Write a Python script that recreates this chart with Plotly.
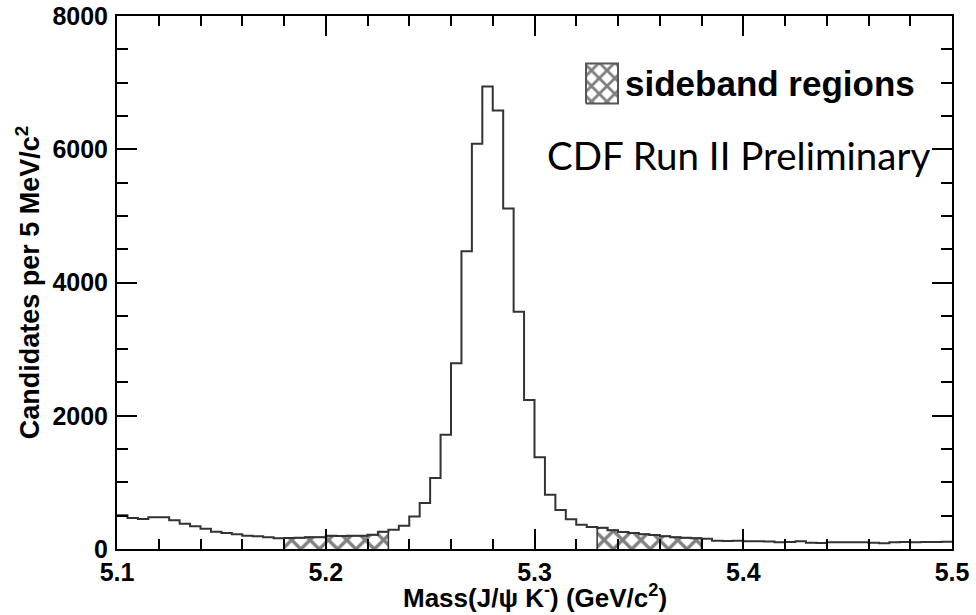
import plotly.graph_objects as go

# ---- data ----
x_start = 5.1
bin_width = 0.005
counts = [
    505, 465, 450, 475, 475, 430, 380, 340, 305, 260,
    240, 220, 200, 190, 175, 160, 165, 170, 175, 175,
    200, 195, 200, 200, 215, 260, 290, 350, 489, 689,
    1064, 1713, 2787, 4470, 6083, 6941, 6581, 5109, 3561, 2237,
    1378, 814, 584, 445, 365, 330, 320, 283, 255, 240,
    222, 210, 190, 178, 168, 160, 152, 125, 120, 125,
    118, 115, 112, 100, 105, 115, 95, 90, 100, 100,
    100, 100, 95, 85, 100, 105, 100, 105, 105, 110,
]
sidebands = [(5.18, 5.23), (5.33, 5.38)]
x_ticks = [5.1, 5.2, 5.3, 5.4, 5.5]
y_ticks = [0, 2000, 4000, 6000, 8000]

edges = [round(x_start + i * bin_width, 4) for i in range(len(counts) + 1)]

# ---- styles ----
W, H = 976, 615
L, R, T, B = 117, 24, 16, 66
LINE_COL = "#333333"
TICK_FONT = dict(family="Liberation Sans", size=25, color="black", weight="bold")
TITLE_FONT = dict(family="Liberation Sans", size=26, color="black", weight="bold")
hatch = dict(shape="x", fgcolor="black", bgcolor="white", size=13, solidity=0.45)

fig = go.Figure()

# hatched sideband regions
for lo, hi in sidebands:
    idx = [i for i in range(len(counts)) if edges[i] >= lo - 1e-9 and edges[i + 1] <= hi + 1e-9]
    xs = [edges[idx[0]]] + [edges[i] for i in idx] + [edges[idx[-1] + 1], edges[idx[-1] + 1]]
    ys = [0] + [counts[i] for i in idx] + [counts[idx[-1]], 0]
    fig.add_trace(go.Scatter(
        x=xs, y=ys, mode="lines", line=dict(shape="hv", color=LINE_COL, width=1.5),
        fill="toself", fillcolor="white", fillpattern=hatch,
        showlegend=False, hoverinfo="skip",
    ))

# histogram outline
fig.add_trace(go.Scatter(
    x=edges, y=counts + [counts[-1]], mode="lines",
    line=dict(shape="hv", color=LINE_COL, width=2),
    showlegend=False,
))

# legend key (hatched box) on an overlay axis in plot-area fractions
kx0, kx1, ky0, ky1 = 0.5617, 0.600, 0.836, 0.911
fig.add_trace(go.Scatter(
    x=[kx0, kx1, kx1, kx0, kx0], y=[ky0, ky0, ky1, ky1, ky0],
    xaxis="x2", yaxis="y2", mode="lines",
    line=dict(color="#555555", width=2),
    fill="toself", fillcolor="white", fillpattern=dict(hatch, size=11),
    showlegend=False, hoverinfo="skip",
))

axis_common = dict(
    showline=True, linecolor="black", linewidth=2, mirror="ticks",
    ticks="inside", tickcolor="black", tickwidth=1.5, ticklen=20,
    showgrid=False, zeroline=False, tickfont=TICK_FONT, automargin=False,
)

fig.update_layout(
    width=W, height=H,
    margin=dict(l=L, r=R, t=T, b=B),
    paper_bgcolor="white", plot_bgcolor="white",
    xaxis=dict(
        axis_common, range=[edges[0], edges[-1]], tickvals=x_ticks, tickformat=".1f",
        minor=dict(ticks="inside", dtick=0.02, ticklen=10, tickcolor="black", tickwidth=1.5),
    ),
    yaxis=dict(
        axis_common, range=[0, 8000], tickvals=y_ticks,
        minor=dict(ticks="inside", dtick=500, ticklen=11, tickcolor="black", tickwidth=1.5),
        title=dict(text="Candidates per 5 MeV/c<sup>2</sup>", font=dict(TITLE_FONT, size=27), standoff=5),
        ticklabelstandoff=2,
    ),
    xaxis2=dict(overlaying="x", range=[0, 1], visible=False),
    yaxis2=dict(overlaying="y", range=[0, 1], visible=False),
    annotations=[
        dict(text="Mass(J/ψ K<sup>-</sup>) (GeV/c<sup>2</sup>)", xref="paper", yref="paper",
             x=0.5, y=-0.124, xanchor="center", yanchor="bottom", showarrow=False,
             font=TITLE_FONT),
        dict(text="sideband regions", xref="paper", yref="paper", x=0.606, y=0.874,
             xanchor="left", yanchor="middle", showarrow=False,
             font=dict(family="Liberation Sans", size=35, color="black", weight="bold")),
        dict(text="CDF Run II Preliminary", xref="paper", yref="paper", x=0.976, y=0.740,
             xanchor="right", yanchor="middle", showarrow=False,
             font=dict(family="Lato", size=38.5, color="black")),
    ],
)

fig.write_html("out.html")
